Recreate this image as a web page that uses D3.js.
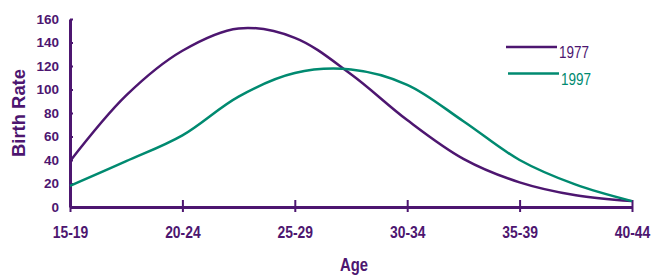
<!DOCTYPE html>
<html>
<head>
<meta charset="utf-8">
<script src="https://cdn.jsdelivr.net/npm/d3@7"></script>
<style>
  body { margin: 0; background: #fff; }
  svg text { font-family: "Liberation Sans", Arial, Helvetica, sans-serif; }
</style>
</head>
<body>
<svg id="chart" width="656" height="275"></svg>
<script>
// age groups shown on the axis, placed at their midpoint age
const groups = ['15-19', '20-24', '25-29', '30-34', '35-39', '40-44'];
const groupMid = [17, 22, 27, 32, 37, 42];

// curve points every 2.5 years of age
const ages = [17, 19.5, 22, 24.5, 27, 29.5, 32, 34.5, 37, 39.5, 42];
const rate1977 = [39, 95, 133, 152, 144, 113, 74, 41, 21, 10, 5];
const rate1997 = [18, 39, 61, 94, 114, 117, 104, 73, 40, 19, 5];

const yTicks = [0, 20, 40, 60, 80, 100, 120, 140, 160];

const purple = '#4d1670';
const green = '#008a70';

const svg = d3.select('#chart');

const x = d3.scaleLinear()
  .domain([17, 42])
  .range([70, 632]);

const y = d3.scaleLinear()
  .domain([0, 160])
  .range([207, 19]);

const line = d3.line()
  .x(d => x(d[0]))
  .y(d => y(d[1]))
  .curve(d3.curveCatmullRom.alpha(0.5));

// axes
const xAxis = svg.append('g')
  .attr('transform', 'translate(0,' + y(0) + ')')
  .call(d3.axisBottom(x)
    .tickValues(groupMid)
    .tickFormat((d, i) => groups[i])
    .tickSizeInner(5)
    .tickSizeOuter(0));

xAxis.select('.domain').attr('stroke', purple).attr('stroke-width', 3);
xAxis.selectAll('.tick line')
  .attr('y1', -7)
  .attr('stroke', purple).attr('stroke-width', 2);
xAxis.selectAll('.tick text')
  .attr('y', 31)
  .attr('dy', 0)
  .attr('fill', purple)
  .attr('font-weight', 'bold')
  .attr('font-size', 16)
  .attr('textLength', 35.5)
  .attr('lengthAdjust', 'spacingAndGlyphs');

const yAxis = svg.append('g')
  .attr('transform', 'translate(' + x(17) + ',0)')
  .call(d3.axisLeft(y)
    .tickValues(yTicks)
    .tickSizeInner(5)
    .tickSizeOuter(0)
    .tickPadding(6));

yAxis.select('.domain').attr('stroke', purple).attr('stroke-width', 3);
yAxis.selectAll('.tick line')
  .attr('x2', 3)
  .attr('stroke', purple).attr('stroke-width', 2);
yAxis.selectAll('.tick text')
  .attr('fill', purple)
  .attr('font-weight', 'bold')
  .attr('font-size', 13.5);

// series
const series = [
  { name: '1977', values: rate1977, color: purple },
  { name: '1997', values: rate1997, color: green },
];

svg.selectAll('path.series')
  .data(series)
  .join('path')
    .attr('class', 'series')
    .attr('fill', 'none')
    .attr('stroke', d => d.color)
    .attr('stroke-width', 2.5)
    .attr('d', d => line(ages.map((a, i) => [a, d.values[i]])));

// legend
const legend = svg.selectAll('g.legend')
  .data(series)
  .join('g')
    .attr('class', 'legend')
    .attr('transform', (d, i) => 'translate(' + (506 + i * 2) + ',' + (47 + i * 26.5) + ')');

legend.append('line')
  .attr('x1', 0).attr('x2', 51)
  .attr('stroke', d => d.color)
  .attr('stroke-width', 2.5);

legend.append('text')
  .attr('x', 53)
  .attr('y', (d, i) => 10.5 + i)
  .attr('fill', d => d.color)
  .attr('font-size', 17)
  .attr('textLength', 30)
  .attr('lengthAdjust', 'spacingAndGlyphs')
  .text(d => d.name);

// axis titles
svg.append('text')
  .attr('transform', 'translate(25,113) rotate(-90)')
  .attr('text-anchor', 'middle')
  .attr('fill', purple)
  .attr('font-weight', 'bold')
  .attr('font-size', 17.5)
  .attr('textLength', 88)
  .attr('lengthAdjust', 'spacingAndGlyphs')
  .text('Birth Rate');

svg.append('text')
  .attr('x', 340)
  .attr('y', 271)
  .attr('fill', purple)
  .attr('font-weight', 'bold')
  .attr('font-size', 18)
  .attr('textLength', 28)
  .attr('lengthAdjust', 'spacingAndGlyphs')
  .text('Age');
</script>
</body>
</html>
